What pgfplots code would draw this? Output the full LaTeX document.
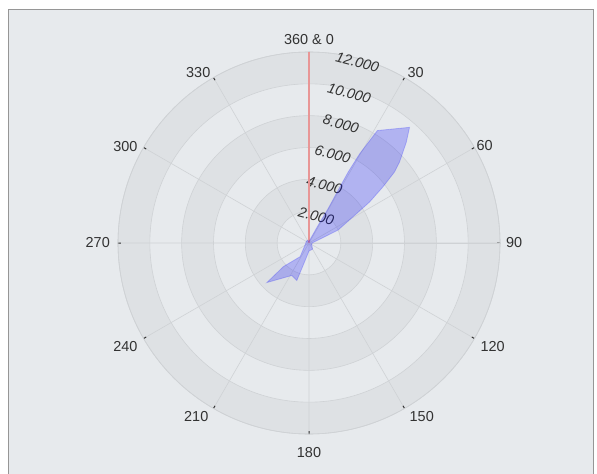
\documentclass[border=0pt]{standalone}
\usepackage{fontspec}
\setmainfont{Liberation Sans}
\usepackage{pgfplots}
\usepackage{pgfplotstable}
\pgfplotsset{compat=1.18}
\usepgfplotslibrary{polar}
\definecolor{bg}{RGB}{231,234,237}
\definecolor{band}{RGB}{222,225,228}
\definecolor{gridc}{RGB}{207,210,213}
\definecolor{txt}{RGB}{50,50,50}
\definecolor{redl}{RGB}{232,150,150}
\definecolor{framec}{RGB}{150,150,150}
\tikzset{lab/.style={font=\fontsize{14.5}{17}\selectfont, text=txt, inner sep=0pt},
         rlab/.style={font=\fontsize{14.5}{17}\selectfont\itshape, text=txt, inner sep=0pt, rotate=-15}}

% compass angle (clockwise from north), value
\pgfplotstableread{
a r
0 100
20 300
27.3 1270
29.1 2480
28.9 3790
28.9 5090
29.6 6450
31.3 8270
41 9630
44 8800
48.2 7630
50.3 6980
52.8 5830
55.9 4600
59.3 3200
66 2000
69.7 850
80 300
90 200
120 200
150 450
180 500
194.5 1420
198 2480
207.9 2310
226.8 3630
227.3 2180
213 1020
240 300
270 200
300 200
330 200
350 100
360 100
}\rosedata

\pgfplotstableread{
a r
0 0
0 12000
}\reddata

\begin{document}
\begin{tikzpicture}
\path[use as bounding box] (0,0) rectangle (597bp,474bp);
\fill[white] (0,0) rectangle (597bp,474bp);
\fill[bg] (8bp,-5bp) rectangle (593bp,465bp);
\draw[framec, line width=0.8bp] (8bp,-5bp) rectangle (593bp,465bp);
\begin{scope}[shift={(309bp,231bp)}]
\fill[band] (0,0) circle[radius=191bp];
\fill[bg] (0,0) circle[radius=159.17bp];
\fill[band] (0,0) circle[radius=127.33bp];
\fill[bg] (0,0) circle[radius=95.5bp];
\fill[band] (0,0) circle[radius=63.67bp];
\fill[bg] (0,0) circle[radius=31.83bp];
\end{scope}
\begin{polaraxis}[
  at={(309bp,231bp)}, anchor=origin,
  scale only axis, width=382bp, height=382bp,
  xmin=0, xmax=360, ymin=0, ymax=12000,
  xtick={0,30,...,330}, xticklabels={},
  ytick={2000,4000,...,12000}, yticklabels={},
  scaled y ticks=false,
  ytick style={draw=none},
  xtick style={draw=txt, line width=1bp},
  tick align=outside, major tick length=3bp,
  grid=major, major grid style={gridc, line width=0.6bp},
  axis line style={gridc, line width=0.6bp},
  clip=false,
]
\node[rlab] at (axis cs:75,1750) {2.000};
\node[rlab] at (axis cs:75,3750) {4.000};
\node[rlab] at (axis cs:75,5750) {6.000};
\node[rlab] at (axis cs:75,7750) {8.000};
\node[rlab] at (axis cs:75,9750) {10.000};
\node[rlab] at (axis cs:75,11750) {12.000};
% angle labels
\node[lab, anchor=south, yshift=7bp] at (axis cs:90,12000) {360 \& 0};
\node[lab, anchor=base west, xshift=3bp] at (axis cs:60,12000) {30};
\node[lab, anchor=base west, xshift=2bp, yshift=-3bp] at (axis cs:30,12000) {60};
\node[lab, anchor=west, xshift=6bp] at (axis cs:0,12000) {90};
\node[lab, anchor=north west, xshift=6bp, yshift=-3bp] at (axis cs:330,12000) {120};
\node[lab, anchor=north west, xshift=5bp, yshift=-3bp] at (axis cs:300,12000) {150};
\node[lab, anchor=north, yshift=-13bp] at (axis cs:270,12000) {180};
\node[lab, anchor=north east, xshift=-5bp, yshift=-3bp] at (axis cs:240,12000) {210};
\node[lab, anchor=north east, xshift=-6bp, yshift=-3bp] at (axis cs:210,12000) {240};
\node[lab, anchor=east, xshift=-8bp] at (axis cs:180,12000) {270};
\node[lab, anchor=base east, xshift=-6bp, yshift=-4bp] at (axis cs:150,12000) {300};
\node[lab, anchor=base east, xshift=-3bp] at (axis cs:120,12000) {330};
\addplot[redl, line width=1.5bp] table[x expr={90-\thisrow{a}}, y=r] {\reddata};
\addplot[draw=blue, draw opacity=0.2, fill=blue, fill opacity=0.23, line width=0.8bp] table[x expr={90-\thisrow{a}}, y=r] {\rosedata};
\end{polaraxis}
\end{tikzpicture}
\end{document}
